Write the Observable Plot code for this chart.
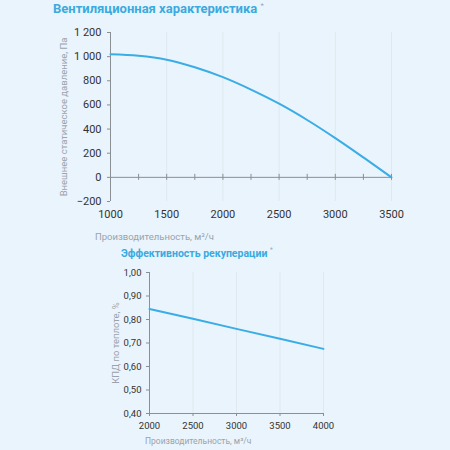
<!DOCTYPE html>
<html>
<head>
<meta charset="utf-8">
<script src="https://cdn.jsdelivr.net/npm/d3@7"></script>
<script src="https://cdn.jsdelivr.net/npm/@observablehq/plot@0.6"></script>
<style>
  body { margin: 0; background: #eaf4fc; font-family: Roboto, sans-serif; }
  #page { position: relative; width: 450px; height: 450px; overflow: hidden; }
  .title { position: absolute; color: #3aaae0; font-weight: bold; white-space: nowrap; }
  .title sup { color: #9ab; font-weight: normal; font-size: 60%; }
  .xlabel { position: absolute; color: #9aa3ab; font-size: 9.5px; white-space: nowrap; }
  .chart { position: absolute; left: 0; }
</style>
</head>
<body>
<div id="page">
  <div class="title" style="left:53px; top:1px; font-size:13px;">Вентиляционная характеристика <sup>*</sup></div>
  <div class="chart" id="fan" style="top:0;"></div>
  <div class="xlabel" style="left:95px; top:231px;">Производительность, м³/ч</div>

  <div class="title" style="left:121px; top:246px; font-size:10.5px;">Эффективность рекуперации <sup>*</sup></div>
  <div class="chart" id="eff" style="top:250px;"></div>
  <div class="xlabel" style="left:145px; top:436px; font-size:8.5px;">Производительность, м³/ч</div>
</div>
<script>
/* global d3, Plot */

// fan curve: airflow (m3/h) vs external static pressure (Pa)
const flow = [1000, 1250, 1500, 1750, 2000, 2250, 2500, 2750, 3000, 3250, 3500];
const pressure = [1020, 1008, 975, 912, 830, 727, 610, 475, 325, 165, 0];
const fanXTicks = [1000, 1500, 2000, 2500, 3000, 3500];
const fanYTicks = [-200, 0, 200, 400, 600, 800, 1000, 1200];
const fanMinor = [1000, 1250, 1500, 1750, 2000, 2250, 2500, 2750, 3000, 3250, 3500];

// heat recovery efficiency
const effFlow = [2000, 2500, 3000, 3500, 4000];
const efficiency = [0.845, 0.803, 0.76, 0.718, 0.675];
const effXTicks = [2000, 2500, 3000, 3500, 4000];
const effYTicks = [0.4, 0.5, 0.6, 0.7, 0.8, 0.9, 1.0];

const lineColor = '#3aace6';
const gridColor = '#dfe8ef';
const axisColor = '#8a8f94';

const fanData = flow.map((f, i) => ({ flow: f, pressure: pressure[i] }));
const effData = effFlow.map((f, i) => ({ flow: f, eff: efficiency[i] }));

const ruFmt = d3.formatLocale({ decimal: ',', thousands: ' ', grouping: [3], currency: ['', ''] });

const fan = Plot.plot({
  width: 450,
  height: 250,
  marginLeft: 110,
  marginRight: 59,
  marginTop: 32,
  marginBottom: 49,
  style: { fontFamily: 'Roboto, sans-serif', fontSize: '11px', color: '#333', background: 'transparent' },
  x: { domain: [1000, 3500] },
  y: { domain: [-200, 1200] },
  marks: [
    Plot.gridX(fanXTicks.slice(1), { stroke: gridColor, strokeOpacity: 1 }),
    Plot.axisX(fanXTicks, { tickSize: 0, tickPadding: 9, label: null, tickFormat: d => String(d) }),
    Plot.axisY(fanYTicks, { tickSize: 3, tickPadding: 6, label: 'Внешнее статическое давление, Па', labelAnchor: 'center', labelArrow: 'none', labelOffset: 50, tickFormat: ruFmt.format(',d'), stroke: axisColor }),
    Plot.ruleX([1000], { stroke: axisColor }),
    Plot.ruleY([0], { stroke: axisColor }),
    Plot.ruleX(fanMinor, { y1: -25, y2: 25, stroke: axisColor }),
    Plot.line(fanData, { x: 'flow', y: 'pressure', stroke: lineColor, strokeWidth: 2, curve: 'monotone-x' })
  ]
});
document.getElementById('fan').append(fan);

const eff = Plot.plot({
  width: 450,
  height: 200,
  marginLeft: 149,
  marginRight: 127,
  marginTop: 22,
  marginBottom: 37,
  style: { fontFamily: 'Roboto, sans-serif', fontSize: '9.5px', color: '#333', background: 'transparent' },
  x: { domain: [2000, 4000] },
  y: { domain: [0.4, 1.0] },
  marks: [
    Plot.gridX(effXTicks.slice(1), { stroke: gridColor, strokeOpacity: 1 }),
    Plot.axisX(effXTicks, { tickSize: 3, tickPadding: 6, label: null, tickFormat: d => String(d), stroke: axisColor }),
    Plot.axisY(effYTicks, { tickSize: 3, tickPadding: 5, label: 'КПД по теплоте, %', labelAnchor: 'center', labelArrow: 'none', labelOffset: 37, tickFormat: ruFmt.format('.2f'), stroke: axisColor }),
    Plot.ruleX([2000], { stroke: axisColor }),
    Plot.ruleY([0.4], { stroke: axisColor }),
    Plot.line(effData, { x: 'flow', y: 'eff', stroke: lineColor, strokeWidth: 2 })
  ]
});
document.getElementById('eff').append(eff);

// axis titles in light grey like the reference
document.querySelectorAll('svg [aria-label="y-axis label"]').forEach(g => {
  g.setAttribute('fill', '#9aa3ab');
  g.setAttribute('font-size', '9.5');
});
</script>
</body>
</html>
